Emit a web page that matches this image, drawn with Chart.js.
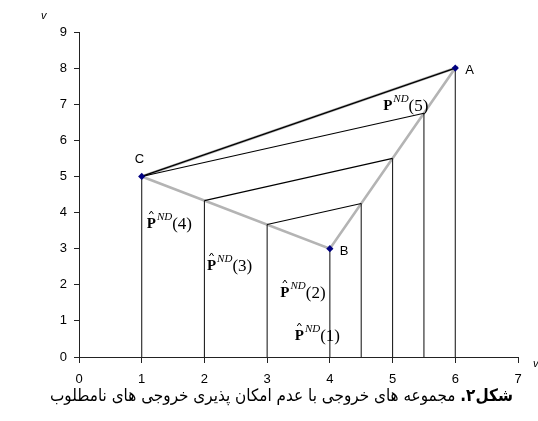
<!DOCTYPE html>
<html>
<head>
<meta charset="utf-8">
<script src="https://cdn.jsdelivr.net/npm/chart.js@4.4.1/dist/chart.umd.min.js"></script>
<style>
  html, body { margin: 0; padding: 0; background: #fff; }
  #wrap { position: relative; width: 538px; height: 421px; overflow: hidden; }
  #caption {
    position: absolute; right: 25px; top: 385px;
    direction: rtl; white-space: nowrap; transform-origin: right center;
    font-family: "DejaVu Sans", sans-serif; font-size: 17px; color: #000;
  }
</style>
</head>
<body>
<div id="wrap">
  <canvas id="c"></canvas>
  <div id="caption"><b>شکل۲.</b> مجموعه های خروجی با عدم امکان پذیری خروجی های نامطلوب</div>
</div>
<script>
// ---- data ----
const xTicks = [0, 1, 2, 3, 4, 5, 6, 7];
const yTicks = [0, 1, 2, 3, 4, 5, 6, 7, 8, 9];
const vertexNames = ['A', 'B', 'C'];
const vertexX = [6, 4, 1];
const vertexY = [8, 3, 5];
// boundary of the triangle C-B-A-C (grey)
const boundaryX = [1, 4, 6, 1];
const boundaryY = [5, 3, 8, 5];
// black chords (start on C-B / C, end on B-A / A)
const chordStartX = [1, 1, 2, 3];
const chordStartY = [5, 5, 4.33, 3.67];
const chordEndX = [6, 5.5, 5, 4.5];
const chordEndY = [8, 6.75, 5.5, 4.25];
// vertical drops to the x axis
const dropX = [1, 2, 3, 4, 4.5, 5, 5.5, 6];
const dropY = [5, 4.33, 3.67, 3, 4.25, 5.5, 6.75, 8];
// P^ND(k) labels
const labelIndex = [1, 2, 3, 4, 5];
const labelHat = [true, true, true, true, false];
const labelX = [3.44, 3.21, 2.04, 1.08, 4.85];
const labelY = [0.47, 1.66, 2.41, 3.57, 6.84];

// caption fit to the reference width
const cap = document.getElementById('caption');
const capW = cap.getBoundingClientRect().width;
cap.style.transform = 'scaleX(' + (463 / capW) + ')';

// ---- datasets ----
const datasets = [];
datasets.push({
  data: vertexX.map((x, i) => ({ x, y: vertexY[i] })),
  showLine: false, pointStyle: 'rectRot', pointRadius: 3.6,
  backgroundColor: '#000080', borderColor: '#000080', borderWidth: 0, order: 0
});
chordStartX.forEach((x, i) => {
  datasets.push({
    data: [{ x, y: chordStartY[i] }, { x: chordEndX[i], y: chordEndY[i] }],
    showLine: true, pointRadius: 0, borderColor: '#000', borderWidth: i === 0 ? 1.4 : 1.1, order: 1
  });
});
dropX.forEach((x, i) => {
  datasets.push({
    data: [{ x, y: dropY[i] }, { x, y: 0 }],
    showLine: true, pointRadius: 0, borderColor: '#222', borderWidth: 1.1, order: 2
  });
});
datasets.push({
  data: boundaryX.map((x, i) => ({ x, y: boundaryY[i] })),
  showLine: true, pointRadius: 0, borderColor: '#b4b4b4', borderWidth: 2.6, order: 3
});

// ---- text plugin ----
const textPlugin = {
  id: 'texts',
  afterDatasetsDraw(chart) {
    const ctx = chart.ctx, xs = chart.scales.x, ys = chart.scales.y;
    ctx.save();
    ctx.fillStyle = '#000';
    ctx.textBaseline = 'alphabetic';
    ctx.font = '13px "Liberation Sans", Arial, sans-serif';
    const off = { A: [10, 6], B: [10, 6], C: [-7, -13] };
    vertexNames.forEach((n, i) => {
      const px = xs.getPixelForValue(vertexX[i]), py = ys.getPixelForValue(vertexY[i]);
      ctx.fillText(n, px + off[n][0], py + off[n][1]);
    });
    ctx.font = 'italic 11px "Liberation Sans", Arial, sans-serif';
    ctx.fillText('v', xs.left - 38, ys.top - 13);
    ctx.fillText('v', xs.right + 15, ys.bottom + 10);
    labelIndex.forEach((k, i) => {
      const x = xs.getPixelForValue(labelX[i]), b = ys.getPixelForValue(labelY[i]);
      ctx.font = 'bold 15px "Liberation Serif", "Times New Roman", serif';
      ctx.fillText('P', x, b);
      const wP = ctx.measureText('P').width;
      if (labelHat[i]) {
        ctx.beginPath();
        ctx.lineWidth = 1;
        ctx.strokeStyle = '#000';
        ctx.moveTo(x + 2.5, b - 14);
        ctx.lineTo(x + wP / 2, b - 17);
        ctx.lineTo(x + wP - 2.5, b - 14);
        ctx.stroke();
      }
      ctx.font = 'italic 11px "Liberation Serif", "Times New Roman", serif';
      ctx.fillText('ND', x + wP + 1, b - 8);
      const wN = ctx.measureText('ND').width;
      ctx.font = '17px "Liberation Serif", "Times New Roman", serif';
      ctx.fillText('(' + k + ')', x + wP + wN + 1, b + 1);
    });
    ctx.restore();
  }
};

new Chart(document.getElementById('c'), {
  type: 'scatter',
  data: { datasets },
  options: {
    responsive: true, maintainAspectRatio: false, animation: false,
    layout: { padding: { left: 0, top: 32, right: 20, bottom: 30 } },
    plugins: { legend: { display: false }, tooltip: { enabled: false } },
    scales: {
      x: {
        type: 'linear', min: xTicks[0], max: xTicks[xTicks.length - 1],
        afterBuildTicks: s => { s.ticks = xTicks.map(v => ({ value: v })); },
        afterFit: s => { s.height = 34; },
        grid: { drawOnChartArea: false, drawTicks: true, tickLength: 6, color: '#222' },
        border: { display: true, color: '#222', width: 1 },
        ticks: { padding: 9, color: '#000', font: { family: '"Liberation Sans", Arial, sans-serif', size: 13 } }
      },
      y: {
        type: 'linear', min: yTicks[0], max: yTicks[yTicks.length - 1],
        afterBuildTicks: s => { s.ticks = yTicks.map(v => ({ value: v })); },
        afterFit: s => { s.width = 79; },
        grid: { drawOnChartArea: false, drawTicks: true, tickLength: 5, color: '#222' },
        border: { display: true, color: '#222', width: 1 },
        ticks: { padding: 7, color: '#000', font: { family: '"Liberation Sans", Arial, sans-serif', size: 13 } }
      }
    }
  },
  plugins: [textPlugin]
});
</script>
</body>
</html>
